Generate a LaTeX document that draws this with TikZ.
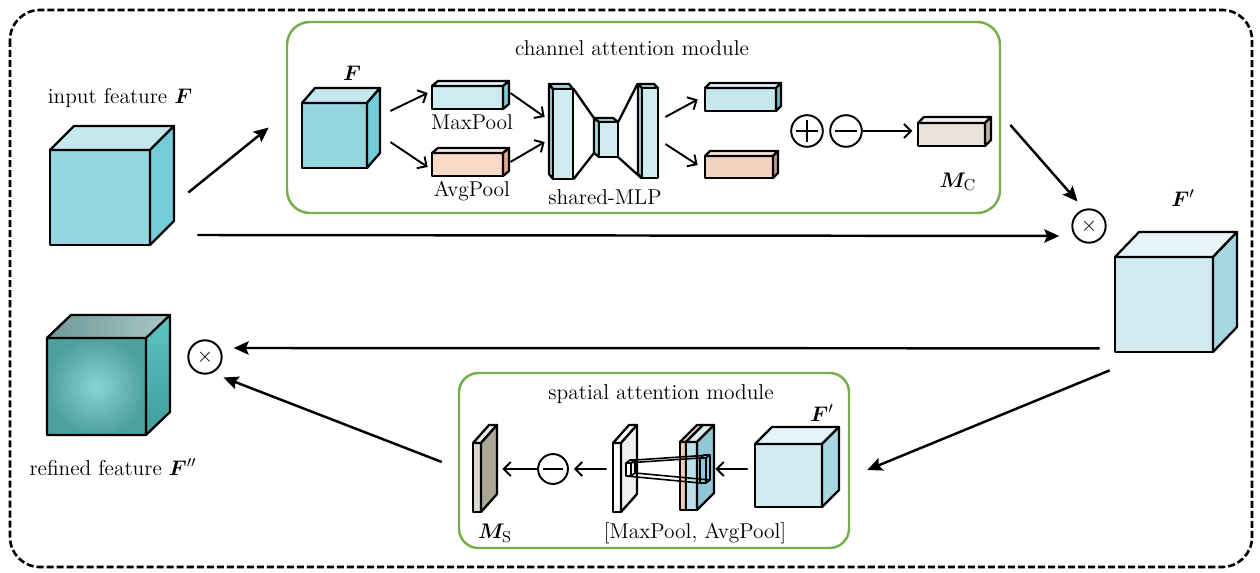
\documentclass[tikz,border=0pt]{standalone}
\usepackage{amsmath}
\usepackage{bm}
\usetikzlibrary{arrows.meta, fit}

\definecolor{modgreen}{HTML}{76AD4E}
\definecolor{cinfront}{HTML}{94D5E0}
\definecolor{cinside}{HTML}{73CCD8}
\definecolor{barblue}{HTML}{CDEBF0}
\definecolor{barblueside}{HTML}{7FC9D3}
\definecolor{barpeach}{HTML}{FAD9C7}
\definecolor{barpeachside}{HTML}{E3A98E}
\definecolor{outblue}{HTML}{C6E7EE}
\definecolor{outblueside}{HTML}{6FB9C3}
\definecolor{outpeach}{HTML}{F5D3C0}
\definecolor{outpeachside}{HTML}{C59A85}
\definecolor{mcfront}{HTML}{E9E3D9}
\definecolor{mcside}{HTML}{BDB3A5}
\definecolor{fpfront}{HTML}{D2EBF1}
\definecolor{fpside}{HTML}{A7D7E2}
\definecolor{mlpfront}{HTML}{CFEBF0}
\definecolor{mlpside}{HTML}{A9DDE5}
\definecolor{wpside}{HTML}{EFEFEF}
\definecolor{msfront}{HTML}{DBD9D2}
\definecolor{msside}{HTML}{ACA797}
\definecolor{stkpeach}{HTML}{F3CBB5}
\definecolor{stkblue}{HTML}{BCE0EA}
\definecolor{stkside}{HTML}{90C6D5}
\definecolor{refin}{HTML}{86D6D5}
\definecolor{refout}{HTML}{4E9F9F}
\definecolor{reftopl}{HTML}{6E9898}
\definecolor{reftopr}{HTML}{A9C8C8}
\definecolor{refsidet}{HTML}{5CC4C4}
\definecolor{refsideb}{HTML}{3E9C9C}

% name, x, y (front top-left), width, height, depth x, depth y, front colour, side colour
\newcommand{\cuboid}[9]{%
  \filldraw[fill=#8, cubeline] (#2,#3) rectangle (#2+#4,#3+#5);
  \filldraw[fill=#8!55!white, cubeline] (#2,#3) -- (#2+#6,#3+#7) -- (#2+#4+#6,#3+#7) -- (#2+#4,#3) -- cycle;
  \filldraw[fill=#9, cubeline] (#2+#4,#3) -- (#2+#4+#6,#3+#7) -- (#2+#4+#6,#3+#5+#7) -- (#2+#4,#3+#5) -- cycle;
  \node[fit={(#2,#3) (#2+#4,#3+#5)}, inner sep=0pt] (#1) {};
}

\begin{document}
\begin{tikzpicture}[x=0.02cm, y=-0.02cm, font=\fontsize{12.2}{14}\selectfont,
  cubeline/.style={draw, line width=1.3pt, line join=round},
  modbox/.style={draw=modgreen, line width=1.4pt, rounded corners=13pt, inner sep=0pt},
  bigarrow/.style={line width=1.4pt, -{Stealth[length=8.5pt, width=7.5pt, inset=1.5pt]}},
  smallarrow/.style={line width=1.1pt, -{Straight Barb[length=4pt, width=8pt]}},
  opcirc/.style={circle, draw, line width=1.1pt, minimum size=18pt, inner sep=0pt},
  plusop/.style={opcirc, path picture={\draw[line width=1.1pt]
    ([xshift=3pt]path picture bounding box.west) -- ([xshift=-3pt]path picture bounding box.east)
    ([yshift=-3pt]path picture bounding box.north) -- ([yshift=3pt]path picture bounding box.south);}},
  minusop/.style={opcirc, path picture={\draw[line width=1.1pt]
    ([xshift=3pt]path picture bounding box.west) -- ([xshift=-3pt]path picture bounding box.east);}},
  timesop/.style={opcirc, minimum size=19pt}]
\useasboundingbox (0,0) rectangle (1260,573);
\draw[line width=1.5pt, dash pattern=on 4pt off 1.7pt, rounded corners=17pt] (10,10) rectangle (1252,567);

% input feature
\node (lin) at (120,98) {input feature $\bm{F}$};
\cuboid{cin}{50}{150}{100}{95}{24}{-24}{cinfront}{cinside}

% channel attention module
\node[modbox, fit={(287,22) (1000,213)}] (cam) {};
\node (lcam) at (632,48) {channel attention module};
\node (lcf) at (352,73) {$\bm{F}$};
\cuboid{cf}{302}{103}{65}{65}{13}{-15}{cinfront}{cinside}
\cuboid{mp}{432}{86}{71}{23}{6}{-5}{barblue}{barblueside}
\cuboid{ap}{432}{153}{71}{23}{6}{-5}{barpeach}{barpeachside}
\node (lmp) at (472,122) {MaxPool};
\node (lap) at (472,191) {AvgPool};
\foreach \x/\y/\w/\h/\dx/\dy/\n in {553/89/20/90/-4/-5/mlpa, 599/122/19/35/-5/-4/mlpb, 642/88/16/90/-4/-4/mlpc}{
  \filldraw[fill=mlpside, cubeline] (\x,\y) -- (\x+\dx,\y+\dy) -- (\x+\dx,\y+\h+\dy) -- (\x,\y+\h) -- cycle;
  \filldraw[fill=mlpside, cubeline] (\x,\y) -- (\x+\dx,\y+\dy) -- (\x+\w+\dx,\y+\dy) -- (\x+\w,\y) -- cycle;
  \filldraw[fill=mlpfront, cubeline] (\x,\y) rectangle (\x+\w,\y+\h);
  \node[fit={(\x,\y) (\x+\w,\y+\h)}, inner sep=0pt] (\n) {};
}
\draw[cubeline] (mlpa.north east) -- ([shift={(-5,-4)}]mlpb.north west)
  (mlpa.south east) -- ([shift={(-5,-4)}]mlpb.south west)
  (mlpb.north east) -- ([shift={(-4,-4)}]mlpc.north west)
  (mlpb.south east) -- (mlpc.south west);
\node (lmlp) at (605,197) {shared-MLP};
\cuboid{oa}{705}{88}{71}{23}{5}{-5}{outblue}{outblueside}
\cuboid{ob}{705}{156}{68}{22}{5}{-5}{outpeach}{outpeachside}
\node[plusop] (add) at (807,131) {};
\node[minusop] (sub) at (846,131) {};
\cuboid{mc}{918}{123}{67}{23}{6}{-6}{mcfront}{mcside}
\node (lmc) at (958,182) {$\bm{M}_{\mathrm{C}}$};

\draw[smallarrow] ([shift={(23,-24.5)}]cf.east) -- ([shift={(-4,-4.5)}]mp.west);
\draw[smallarrow] ([shift={(23,6.5)}]cf.east) -- ([shift={(-4,2.5)}]ap.west);
\draw[smallarrow] ([shift={(7,-4.5)}]mp.east) -- ([shift={(-8,-17)}]mlpa.west);
\draw[smallarrow] ([shift={(7,-2.5)}]ap.east) -- ([shift={(-8,8)}]mlpa.west);
\draw[smallarrow] ([shift={(7,-16)}]mlpc.east) -- ([shift={(-7,0)}]oa.west);
\draw[smallarrow] ([shift={(7,11)}]mlpc.east) -- ([shift={(-7,-2)}]ob.west);
\draw[smallarrow, shorten >=3pt] (sub) -- (sub -| mc.west);

% refined channel feature
\node[timesop] (mulc) at (1089,226) {$\times$};
\node (lfp) at (1183,198) {$\bm{F}'$};
\cuboid{fp}{1115}{257}{98}{95}{24}{-25}{fpfront}{fpside}

\draw[bigarrow] ([shift={(38,-5)}]cin.east) -- ([shift={(-17,10)}]cam.west);
\draw[bigarrow] ([shift={(47,37.5)}]cin.east) -- ([shift={(-12,10)}]mulc.west);
\draw[bigarrow] ([shift={(25,-9.5)}]mc.east) -- ([shift={(1,-12)}]mulc.north west);

% spatial attention module
\node[modbox, rounded corners=11pt, fit={(459,373) (849,548)}] (sam) {};
\node (lsam) at (661,394) {spatial attention module};
\node (lsfp) at (822,413) {$\bm{F}'$};
\cuboid{sfp}{755}{444}{67}{63}{17}{-17}{fpfront}{fpside}
\cuboid{spk}{680}{442}{6}{68}{17}{-17}{stkpeach}{stkpeach!80!black}
\cuboid{sbl}{686}{442}{11}{68}{17}{-17}{stkblue}{stkside}
\cuboid{wpl}{613}{443}{8}{69}{16}{-18}{white}{wpside}
\cuboid{msp}{473}{443}{8}{69}{16}{-18}{msfront}{msside}
% convolution window between the pooled maps and the plane
\begin{scope}[line width=0.9pt, line join=round]
  \filldraw[fill=white] (626,463) rectangle (631,476);
  \draw (626,463) -- (630,460) -- (635,460) -- (631,463) (635,460) -- (635,473) -- (631,476);
  \draw (700,458) rectangle (706,483) (700,458) -- (704,455) -- (710,455) -- (706,458) (710,455) -- (710,480) -- (706,483);
  \draw (626,463) -- (700,458) (626,476) -- (700,483) (635,460) -- (710,455) (635,473) -- (710,480);
\end{scope}
\node[minusop, minimum size=17pt] (subs) at (553,469) {};
\node (lms) at (495,533) {$\bm{M}_{\mathrm{S}}$};
\node (lpool) at (695,533) {[MaxPool, AvgPool]};

\draw[smallarrow] ([shift={(-7,-6.5)}]sfp.west) -- ([shift={(18,-7)}]sbl.east);
\draw[smallarrow] ([shift={(-6,-8.5)}]wpl.west) -- ([shift={(5,0)}]subs.east);
\draw[smallarrow] (subs.west) -- ([shift={(21,-8.5)}]msp.east);

% refined feature
\shade[inner color=refin, outer color=refout] (47,338) rectangle (146,435);
\shade[left color=reftopl, right color=reftopr] (47,338) -- (71,315) -- (170,315) -- (146,338) -- cycle;
\shade[top color=refsidet, bottom color=refsideb] (146,338) -- (170,315) -- (170,412) -- (146,435) -- cycle;
\draw[cubeline] (47,338) rectangle (146,435) (47,338) -- (71,315) -- (170,315) -- (146,338) (170,315) -- (170,412) -- (146,435);
\node[fit={(47,338) (146,435)}, inner sep=0pt] (cref) {};
\node (lref) at (113,467) {refined feature $\bm{F}''$};
\node[timesop] (muls) at (205,357) {$\times$};

\draw[bigarrow] ([shift={(-15,-4)}]fp.south west) -- ([shift={(11,-9)}]muls.east);
\draw[bigarrow] ([shift={(-5,18)}]fp.south west) -- ([shift={(17,9.5)}]sam.east);
\draw[bigarrow] ([shift={(-16,1.5)}]sam.west) -- ([shift={(6,8)}]muls.south east);
\end{tikzpicture}
\end{document}
